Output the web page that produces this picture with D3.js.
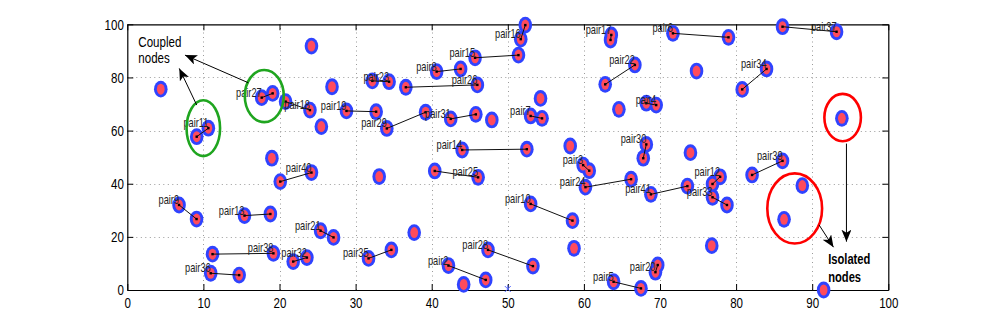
<!DOCTYPE html>
<html>
<head>
<meta charset="utf-8">
<script src="https://cdn.jsdelivr.net/npm/d3@7"></script>
<style>
  html, body { margin: 0; padding: 0; background: #fff; }
  svg { display: block; }
  text { font-family: "Liberation Sans", Arial, Helvetica, sans-serif; }
</style>
</head>
<body>
<svg id="chart" width="981" height="327"></svg>
<script>
// ---------- data ----------
const xTicks = [0, 10, 20, 30, 40, 50, 60, 70, 80, 90, 100];
const yTicks = [0, 20, 40, 60, 80, 100];

// unpaired (isolated) nodes [x, y]
const singleNodes = [
  [4.4, 75.6], [24.2, 91.8], [25.5, 61.5], [26.9, 76.5], [47.9, 64.0],
  [54.3, 72.1], [74.8, 82.4], [64.6, 68.0], [93.9, 64.6], [58.2, 54.2],
  [74.0, 51.7], [88.7, 39.3], [86.3, 26.6], [76.8, 16.7], [91.5, 0.0],
  [19.0, 49.6], [33.1, 42.7], [37.7, 21.6], [44.2, 2.1], [58.7, 15.7]
];

// pair names and their two nodes (first node carries the label)
const pairNames = [
  "pair2","pair3","pair4","pair5","pair6","pair7","pair8","pair9","pair10","pair11",
  "pair12","pair13","pair14","pair15","pair16","pair17","pair18","pair19","pair20","pair21",
  "pair22","pair23","pair24","pair25","pair26","pair27","pair28","pair29","pair30","pair31",
  "pair32","pair33","pair34","pair35","pair36","pair37","pair38","pair39","pair40","pair41"
];
const pairNodeA = [
  [42.2, 9.2], [59.9, 47.0], [69.5, 69.6], [63.9, 3.1], [71.7, 96.6], [53.0, 65.5], [40.65, 82.2], [6.8, 32.0], [53.0, 32.4], [10.65, 60.9],
  [77.9, 42.6], [15.4, 28.0], [44.0, 52.7], [45.7, 87.4], [51.7, 94.4], [63.6, 96.0], [24.0, 67.7], [28.8, 67.4], [69.4, 6.7], [25.4, 22.3],
  [66.7, 84.7], [34.4, 78.4], [60.2, 38.7], [46.1, 42.4], [46.0, 77.2], [17.66, 72.4], [47.4, 15.1], [34.1, 60.8], [68.2, 54.8], [42.5, 64.4],
  [23.6, 12.2], [76.9, 34.9], [84.0, 83.2], [31.7, 11.9], [10.96, 6.3], [93.2, 97.2], [19.2, 13.8], [86.1, 48.6], [24.2, 44.2], [68.8, 36.0]
];
const pairNodeB = [
  [47.1, 3.8], [60.7, 44.9], [68.2, 70.3], [67.5, 0.6], [79.0, 95.1], [54.5, 64.6], [43.8, 83.2], [9.1, 26.7], [58.5, 26.1], [9.12, 57.7],
  [76.9, 39.9], [18.8, 28.6], [52.5, 53.0], [51.4, 88.4], [52.3, 99.7], [63.5, 94.1], [20.8, 70.9], [32.7, 67.1], [69.7, 9.4], [27.1, 19.8],
  [62.8, 77.4], [32.2, 78.7], [66.2, 41.7], [40.4, 44.8], [36.6, 76.3], [19.1, 74.0], [53.3, 9.0], [39.2, 66.9], [67.8, 49.6], [45.8, 66.1],
  [21.8, 10.7], [78.8, 32.0], [80.8, 75.5], [34.7, 15.1], [14.7, 5.6], [86.1, 99.1], [11.2, 13.5], [82.1, 43.3], [20.1, 40.8], [73.6, 39.1]
];

// sink / base-station marker
const sinkNode = [50, 0];

// annotation ellipses: [cx, cy, rx, ry] in data units
const coupledEllipses = [[9.99, 60.9, 2.2, 10.5], [18.0, 73.0, 2.56, 9.8]];
const isolatedEllipses = [[94.0, 64.9, 2.4, 8.9], [87.7, 30.7, 3.6, 13.2]];
// annotation arrows: [x1, y1, x2, y2] in data units (x2,y2 = head)
const arrows = [
  [9.12, 69.6, 6.83, 83.4],
  [15.9, 78.0, 7.58, 88.4],
  [94.5, 55.1, 94.5, 18.2],
  [90.9, 24.5, 92.8, 16.1]
];
const coupledText = { lines: ["Coupled", "nodes"], x: 1.45, y: [91.3, 85.3] };
const isolatedText = { lines: ["Isolated", "nodes"], x: 92.1, y: [9.8, 3.1] };

// ---------- drawing ----------
const SX = 0.77; // horizontal compression of the original figure's text
const svg = d3.select("#chart");
const x = d3.scaleLinear().domain([0, 100]).range([127.3, 888.3]);
const y = d3.scaleLinear().domain([0, 100]).range([290, 24.3]);

// grid
const grid = svg.append("g").attr("stroke", "#9a9a9a").attr("stroke-width", 1).attr("stroke-dasharray", "1,3.5");
grid.selectAll("line.gx").data(xTicks.slice(1, -1)).join("line")
  .attr("x1", d => Math.round(x(d)) + 0.5).attr("x2", d => Math.round(x(d)) + 0.5)
  .attr("y1", y(0)).attr("y2", y(100));
grid.selectAll("line.gy").data(yTicks.slice(1, -1)).join("line")
  .attr("y1", d => Math.round(y(d)) + 0.5).attr("y2", d => Math.round(y(d)) + 0.5)
  .attr("x1", x(0)).attr("x2", x(100));

// axes (ticks inside, box)
function styleAxis(g) {
  g.select(".domain").attr("stroke", "#000").attr("stroke-width", 1.2);
  g.selectAll(".tick line").attr("stroke", "#000").attr("stroke-width", 1);
  g.selectAll(".tick text").attr("fill", "#000").attr("font-size", 15);
}
const xb = svg.append("g").attr("transform", `translate(0,${y(0)})`)
  .call(d3.axisBottom(x).tickValues(xTicks).tickSize(-6).tickSizeOuter(0).tickPadding(12).tickFormat(d3.format("d")));
styleAxis(xb);
xb.selectAll(".tick text").attr("transform", `scale(${SX},1)`).attr("dy", "0.71em").attr("y", 7);
const xt = svg.append("g").attr("transform", `translate(0,${y(100)})`)
  .call(d3.axisTop(x).tickValues(xTicks).tickSize(-6).tickSizeOuter(0).tickFormat(""));
styleAxis(xt);
const yl = svg.append("g").attr("transform", `translate(${x(0)},0)`)
  .call(d3.axisLeft(y).tickValues(yTicks).tickSize(-6).tickSizeOuter(0).tickFormat(d3.format("d")));
styleAxis(yl);
yl.selectAll(".tick text").attr("x", -3.5 / SX).attr("transform", `scale(${SX},1)`);
const yr = svg.append("g").attr("transform", `translate(${x(100)},0)`)
  .call(d3.axisRight(y).tickValues(yTicks).tickSize(-6).tickSizeOuter(0).tickFormat(""));
styleAxis(yr);

// nodes
const allNodes = singleNodes.concat(pairNodeA, pairNodeB);
const BLUE = "#2f43ff", RED = "#ff4b5c";
const nodes = svg.append("g");
nodes.selectAll("ellipse.outer").data(allNodes).join("ellipse")
  .attr("cx", d => x(d[0])).attr("cy", d => y(d[1]))
  .attr("rx", 6.8).attr("ry", 8.4).attr("fill", BLUE);
nodes.selectAll("ellipse.inner").data(allNodes).join("ellipse")
  .attr("class", "inner")
  .attr("cx", d => x(d[0])).attr("cy", d => y(d[1]))
  .attr("rx", 3.9).attr("ry", 5.5).attr("fill", RED);

// pair links
const pairs = pairNames.map((n, i) => ({ name: n, a: pairNodeA[i], b: pairNodeB[i] }));
const links = svg.append("g");
links.selectAll("line").data(pairs).join("line")
  .attr("x1", d => x(d.a[0])).attr("y1", d => y(d.a[1]))
  .attr("x2", d => x(d.b[0])).attr("y2", d => y(d.b[1]))
  .attr("stroke", "#111").attr("stroke-width", 1);
const centers = pairNodeA.concat(pairNodeB);
links.selectAll("rect").data(centers).join("rect")
  .attr("x", d => x(d[0]) - 1.2).attr("y", d => y(d[1]) - 1.2)
  .attr("width", 2.4).attr("height", 2.4).attr("fill", "#000");

// pair labels (right-aligned, bottom at labelled node)
svg.append("g").selectAll("text").data(pairs).join("text")
  .attr("transform", d => `translate(${x(d.a[0])},${y(d.a[1]) - 1}) scale(${SX},1)`)
  .attr("text-anchor", "end").attr("font-size", 12).attr("fill", "#222")
  .text(d => d.name);

// sink marker
const sk = svg.append("g").attr("transform", `translate(${x(sinkNode[0])},${y(sinkNode[1]) - 1})`)
  .attr("stroke", "#5a6cff").attr("stroke-width", 1);
sk.append("line").attr("x1", -3).attr("y1", -3).attr("x2", 3).attr("y2", 3);
sk.append("line").attr("x1", -3).attr("y1", 3).attr("x2", 3).attr("y2", -3);
sk.append("line").attr("x1", 0).attr("y1", -4).attr("x2", 0).attr("y2", 0);

// annotation ellipses
svg.append("g").selectAll("ellipse").data(coupledEllipses).join("ellipse")
  .attr("cx", d => x(d[0])).attr("cy", d => y(d[1]))
  .attr("rx", d => x(d[2]) - x(0)).attr("ry", d => y(0) - y(d[3]))
  .attr("fill", "none").attr("stroke", "#1fa51f").attr("stroke-width", 2.6);
svg.append("g").selectAll("ellipse").data(isolatedEllipses).join("ellipse")
  .attr("cx", d => x(d[0])).attr("cy", d => y(d[1]))
  .attr("rx", d => x(d[2]) - x(0)).attr("ry", d => y(0) - y(d[3]))
  .attr("fill", "none").attr("stroke", "#ff0000").attr("stroke-width", 2.6);

// arrows
const defs = svg.append("defs");
defs.append("marker").attr("id", "ah").attr("viewBox", "0 0 12 10")
  .attr("refX", 12).attr("refY", 5).attr("markerWidth", 12).attr("markerHeight", 10)
  .attr("markerUnits", "userSpaceOnUse").attr("orient", "auto")
  .append("path").attr("d", "M0,0 L12,5 L0,10 L3,5 Z").attr("fill", "#000");
svg.append("g").selectAll("line").data(arrows).join("line")
  .attr("x1", d => x(d[0])).attr("y1", d => y(d[1]))
  .attr("x2", d => x(d[2])).attr("y2", d => y(d[3]))
  .attr("stroke", "#000").attr("stroke-width", 1).attr("marker-end", "url(#ah)");

// annotation texts
function multiText(t, size, weight) {
  svg.append("g").selectAll("text").data(t.lines).join("text")
    .attr("transform", (d, i) => `translate(${x(t.x)},${y(t.y[i])}) scale(${SX},1)`)
    .attr("font-size", size).attr("font-weight", weight).attr("fill", "#000")
    .text(d => d);
}
multiText(coupledText, 15, "normal");
multiText(isolatedText, 14.5, "bold");
</script>
</body>
</html>
